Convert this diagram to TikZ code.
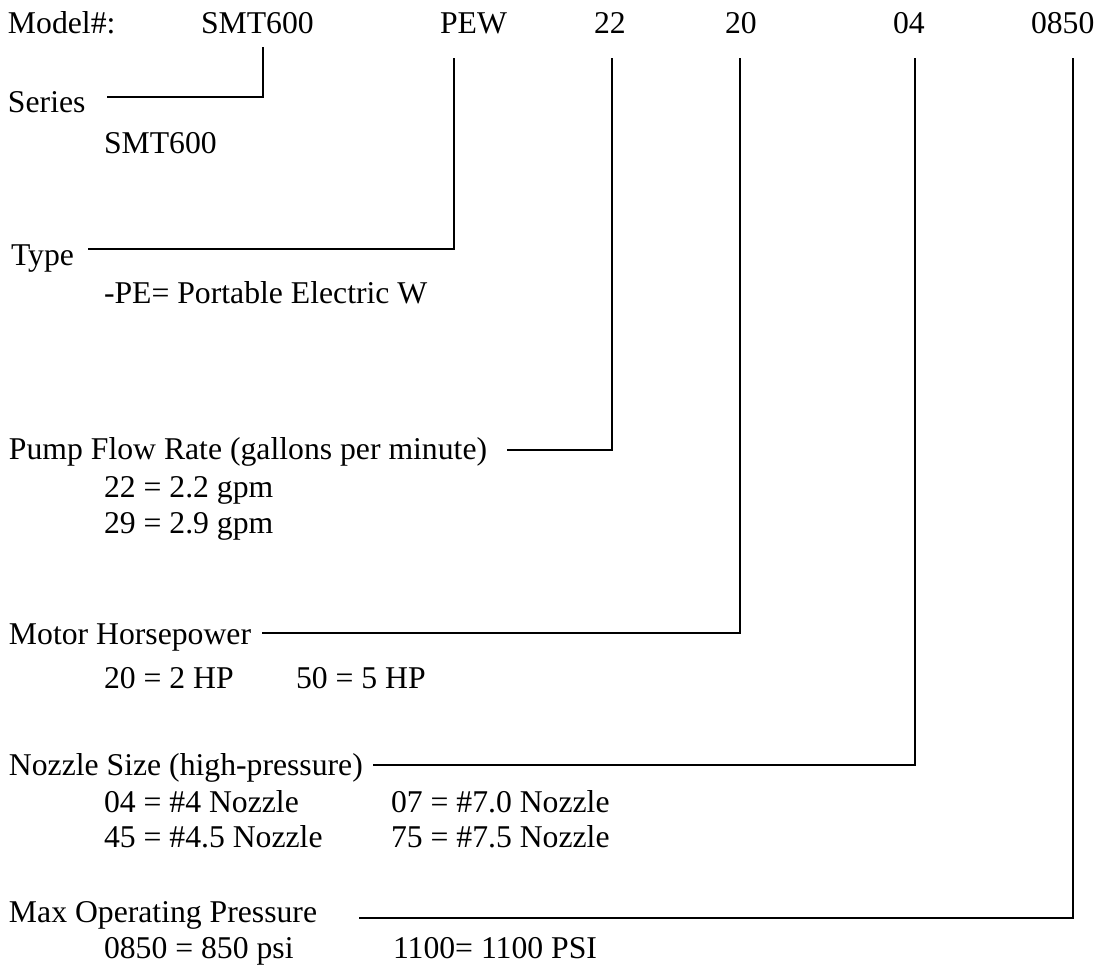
\documentclass[tikz,border=0pt]{standalone}
\usepackage{fontspec}
\setmainfont{Liberation Serif}
\begin{document}
\begin{tikzpicture}[x=1pt,y=-1pt,
  txt/.style={anchor=base west,inner sep=0pt,outer sep=0pt,font=\fontsize{31.7}{36}\selectfont},
  conn/.style={line width=1.6pt,line cap=butt,line join=miter}]
\useasboundingbox (0,0) rectangle (1108,967);
% header
\node[txt] (hmodel) at (8,33) {Model\#:};
\node[txt] (hsmt) at (201,33) {SMT600};
\node[txt] (hpew) at (440,33) {PEW};
\node[txt] (h22) at (594,33) {22};
\node[txt] (h20) at (725,33) {20};
\node[txt] (h04) at (893,33) {04};
\node[txt] (h0850) at (1031,33) {0850};
% labels
\node[txt] (series) at (8,112) {Series};
\node[txt] (seriesv) at (104,153) {SMT600};
\node[txt] (type) at (11,265) {Type};
\node[txt] (typev) at (104,303) {-PE= Portable Electric W};
\node[txt] (pump) at (9,459) {Pump Flow Rate (gallons per minute)};
\node[txt] (pumpa) at (104,497) {22 = 2.2 gpm};
\node[txt] (pumpb) at (104,533) {29 = 2.9 gpm};
\node[txt] (motor) at (9,644) {Motor Horsepower};
\node[txt] (motora) at (104,688) {20 = 2 HP};
\node[txt] (motorb) at (296,688) {50 = 5 HP};
\node[txt] (nozzle) at (9,775) {Nozzle Size (high-pressure)};
\node[txt] (nozzlea) at (104,812) {04 = \#4 Nozzle};
\node[txt] (nozzleb) at (391,812) {07 = \#7.0 Nozzle};
\node[txt] (nozzlec) at (104,847) {45 = \#4.5 Nozzle};
\node[txt] (nozzled) at (391,847) {75 = \#7.5 Nozzle};
\node[txt] (maxp) at (9,922) {Max Operating Pressure};
\node[txt] (maxpa) at (104,958) {0850 = 850 psi};
\node[txt] (maxpb) at (393,958) {1100= 1100 PSI};
% connector coordinates
\coordinate (tsmt) at (263,47);
\coordinate (esmt) at (107,97);
\coordinate (tpew) at (454,58);
\coordinate (epew) at (88,249);
\coordinate (t22) at (612,58);
\coordinate (e22) at (507,450);
\coordinate (t20) at (740,58);
\coordinate (e20) at (262,633);
\coordinate (t04) at (915,58);
\coordinate (e04) at (373,765);
\coordinate (t0850) at (1073,58);
\coordinate (e0850) at (359,918);
% connectors
\draw[conn] (tsmt) |- (esmt);
\draw[conn] (tpew) |- (epew);
\draw[conn] (t22) |- (e22);
\draw[conn] (t20) |- (e20);
\draw[conn] (t04) |- (e04);
\draw[conn] (t0850) |- (e0850);
\end{tikzpicture}
\end{document}
